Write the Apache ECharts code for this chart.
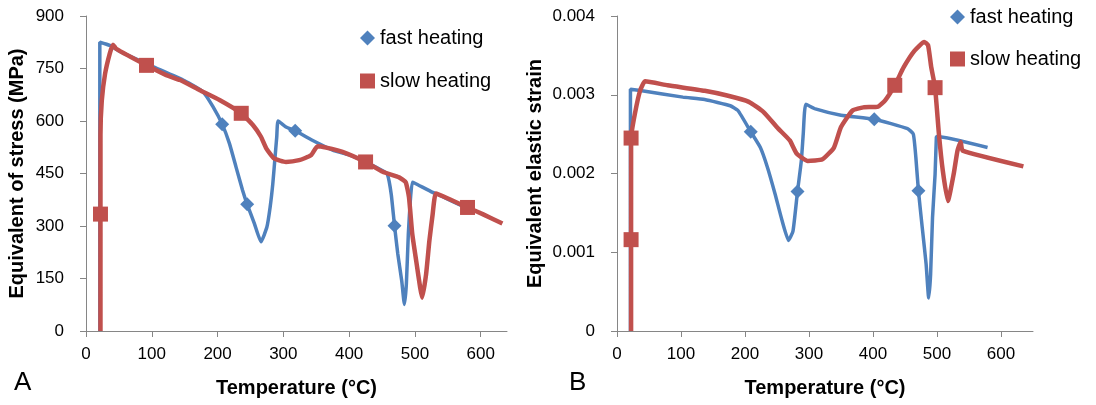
<!DOCTYPE html>
<html>
<head>
<meta charset="utf-8">
<title>Equivalent stress and elastic strain vs temperature</title>
<script src="https://cdn.jsdelivr.net/npm/echarts@6/dist/echarts.min.js"></script>
<style>
  html, body { margin: 0; padding: 0; background: #fff; }
  #chart { width: 1096px; height: 405px; }
</style>
</head>
<body>
<div id="chart"></div>
<script>
// Temperature ticks shared by both panels
const tempTicks = [0, 100, 200, 300, 400, 500, 600];

// Panel A: equivalent stress (MPa) vs temperature (°C)
const fastStress = [
  [21, 0], [21, 825], [36, 816], [50, 800], [100, 757], [150, 715], [178, 683],
  [193, 641], [207, 591], [218, 536], [228, 469], [238, 402], [245, 362],
  [256, 307], [266, 255], [275, 297], [280, 355], [284, 421], [287, 488],
  [290, 555], [292, 600], [304, 583], [318, 572], [344, 545], [375, 517],
  [400, 503], [426, 482], [451, 458], [458, 449], [464, 391], [469, 301],
  [474, 220], [480, 143], [484, 76], [487, 134], [490, 277], [493, 372],
  [496, 425], [500, 422], [527, 396], [535, 390], [580, 350]
];
const fastStressMarks = [[207, 591], [245, 362], [318, 572], [469, 301]];

const slowStress = [
  [22, 0], [22, 334], [22, 560], [24, 658], [29, 735], [36, 792], [41, 818],
  [46, 806], [92, 759], [122, 731], [143, 717], [173, 688], [203, 660],
  [236, 622], [254, 588], [266, 555], [274, 522], [286, 493], [304, 483],
  [324, 488], [342, 502], [352, 528], [365, 524], [390, 512], [425, 483],
  [451, 455], [476, 439], [486, 425], [491, 382], [496, 277], [502, 200],
  [508, 124], [511, 95], [517, 162], [522, 258], [527, 334], [532, 393],
  [552, 377], [580, 353], [603, 334], [633, 307]
];
const slowStressMarks = [[22, 334], [92, 759], [236, 622], [425, 483], [580, 353]];

// Panel B: equivalent elastic strain vs temperature (°C)
const fastStrain = [
  [21, 0], [21, 0.00307], [39, 0.00305], [103, 0.00297], [137, 0.00294],
  [177, 0.00286], [189, 0.0028], [209, 0.00253], [224, 0.00233], [235, 0.00208],
  [247, 0.00174], [258, 0.0014], [268, 0.00115], [275, 0.00127], [282, 0.00177],
  [288, 0.00216], [291, 0.0025], [295, 0.00288], [310, 0.00282], [350, 0.00274],
  [402, 0.00269], [454, 0.00257], [463, 0.0025], [467, 0.0022], [471, 0.00178],
  [477, 0.00131], [483, 0.00085], [487, 0.00042], [490, 0.00072], [493, 0.00144],
  [497, 0.00199], [499, 0.00246], [500, 0.00247], [579, 0.00233]
];
const fastStrainMarks = [[209, 0.00253], [282, 0.00177], [402, 0.00269], [471, 0.00178]];

const slowStrain = [
  [22, 0], [22, 0.00116], [22, 0.00245], [28, 0.00276], [36, 0.00305],
  [44, 0.00317], [79, 0.00312], [137, 0.00305], [172, 0.00299], [206, 0.00291],
  [229, 0.00278], [252, 0.00257], [270, 0.00242], [281, 0.00225], [298, 0.00216],
  [321, 0.00218], [339, 0.00233], [350, 0.00259], [368, 0.0028], [385, 0.00284],
  [408, 0.00285], [419, 0.00293], [434, 0.00312], [448, 0.00335], [465, 0.00356],
  [480, 0.00367], [486, 0.00363], [491, 0.00335], [497, 0.00309], [503, 0.0025],
  [509, 0.00204], [517, 0.00165], [526, 0.00199], [532, 0.00229], [537, 0.0024],
  [540, 0.00229], [635, 0.00209]
];
const slowStrainMarks = [[22, 0.00116], [22, 0.00245], [434, 0.00312], [497, 0.00309]];

const BLUE = '#4F81BD';
const RED = '#C0504D';
const FONT = 'Liberation Sans, Arial, sans-serif';

// Turn a curve into line data; only the listed points get a visible marker
function withMarks(points, marks, symbol, size) {
  return points.map(p => {
    const hit = marks.some(m => m[0] === p[0] && m[1] === p[1]);
    return hit
      ? { value: p, symbol: symbol, symbolSize: size }
      : { value: p, symbol: 'none' };
  });
}

function xAxisFor(gridIndex, max) {
  return {
    type: 'value', gridIndex: gridIndex, min: 0, max: max,
    name: 'Temperature (°C)', nameLocation: 'middle', nameGap: 47,
    nameTextStyle: { fontFamily: FONT, fontSize: 20, fontWeight: 'bold', color: '#000' },
    axisLine: { lineStyle: { color: '#868686', width: 1 } },
    axisTick: { show: true, inside: false, length: 6, customValues: tempTicks,
                lineStyle: { color: '#868686' } },
    axisLabel: { customValues: tempTicks, margin: 15, fontFamily: FONT, fontSize: 17, color: '#000' },
    splitLine: { show: false }
  };
}

function yAxisFor(gridIndex, max, interval, title, gap) {
  return {
    type: 'value', gridIndex: gridIndex, min: 0, max: max, interval: interval,
    name: title, nameLocation: 'middle', nameGap: gap, nameRotate: 90,
    nameTextStyle: { fontFamily: FONT, fontSize: 20, fontWeight: 'bold', color: '#000' },
    axisLine: { show: true, lineStyle: { color: '#868686', width: 1 } },
    axisTick: { show: true, inside: false, length: 6, lineStyle: { color: '#868686' } },
    axisLabel: { margin: 22, fontFamily: FONT, fontSize: 17, color: '#000' },
    splitLine: { show: false }
  };
}

function legendAt(left, top, gap) {
  return {
    orient: 'vertical', left: left, top: top, itemGap: gap, padding: 0,
    itemWidth: 15, itemHeight: 15, itemStyle: { borderWidth: 0 },
    textStyle: { fontFamily: FONT, fontSize: 20, lineHeight: 20, color: '#000' },
    data: [
      { name: 'fast heating', icon: 'diamond' },
      { name: 'slow heating', icon: 'rect' }
    ],
    selectedMode: false
  };
}

function curve(name, axis, data, color, width, z) {
  return {
    name: name, type: 'line', xAxisIndex: axis, yAxisIndex: axis,
    data: data, smooth: 0.15,
    lineStyle: { color: color, width: width }, itemStyle: { color: color },
    showAllSymbol: true, z: z
  };
}

const chart = echarts.init(document.getElementById('chart'), null, { renderer: 'canvas' });

chart.setOption({
  animation: false,
  backgroundColor: '#fff',
  grid: [
    { left: 86, top: 16, width: 421, height: 315 },
    { left: 617, top: 16, width: 416, height: 315 }
  ],
  xAxis: [xAxisFor(0, 640), xAxisFor(1, 650)],
  yAxis: [
    yAxisFor(0, 900, 150, 'Equivalent of stress (MPa)', 59),
    yAxisFor(1, 0.004, 0.001, 'Equivalent elastic strain', 72)
  ],
  legend: [legendAt(360, 28, 23), legendAt(950, 7, 22)],
  graphic: [
    { type: 'text', left: 14, top: 370, style: { text: 'A', fontFamily: FONT, fontSize: 26, fill: '#000' } },
    { type: 'text', left: 569, top: 370, style: { text: 'B', fontFamily: FONT, fontSize: 26, fill: '#000' } }
  ],
  series: [
    curve('fast heating', 0, withMarks(fastStress, fastStressMarks, 'diamond', 14), BLUE, 3.5, 2),
    curve('slow heating', 0, withMarks(slowStress, slowStressMarks, 'rect', 15), RED, 4.5, 3),
    curve('fast heating', 1, withMarks(fastStrain, fastStrainMarks, 'diamond', 14), BLUE, 3.5, 2),
    curve('slow heating', 1, withMarks(slowStrain, slowStrainMarks, 'rect', 15), RED, 4.5, 3)
  ]
});
</script>
</body>
</html>
